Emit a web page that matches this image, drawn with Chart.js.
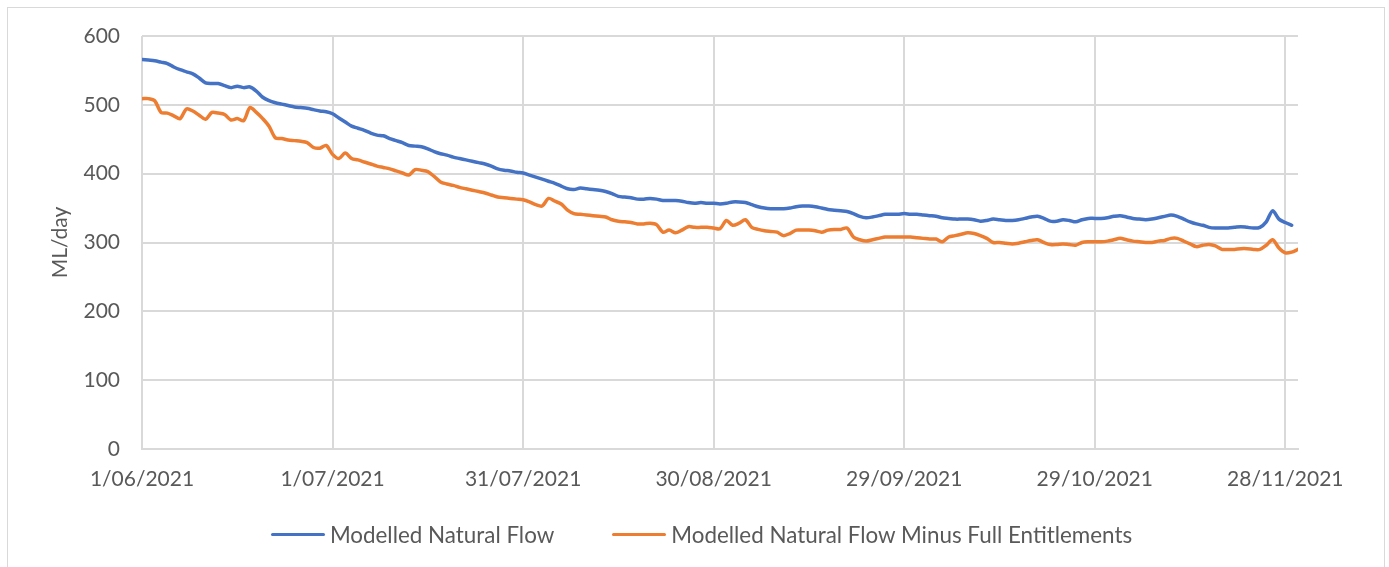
<!DOCTYPE html>
<html>
<head>
<meta charset="utf-8">
<script src="https://cdn.jsdelivr.net/npm/chart.js@4.4.1/dist/chart.umd.min.js"></script>
<style>
  html, body { margin:0; padding:0; background:#fff; }
  #wrap { position:relative; width:1389px; height:567px; overflow:hidden; }
  #frame { position:absolute; left:7px; top:7px; width:1376px; height:600px; border:1px solid #d9d9d9; }
  #chart { position:absolute; left:0; top:0; }
  #legend { position:absolute; left:0; top:521px; width:1389px; padding-left:14px; box-sizing:border-box;
            display:flex; justify-content:center; gap:58px; font-family:Lato, sans-serif; font-size:22.4px; color:#595959; }
  #legend .item { display:flex; align-items:center; white-space:nowrap; }
  #legend .sw { display:inline-block; width:54px; height:3.5px; border-radius:2px; margin-right:5px; }
</style>
</head>
<body>
<div id="wrap">
  <div id="frame"></div>
  <canvas id="chart" width="1389" height="567"></canvas>
  <div id="legend"></div>
</div>
<script>
// days counted from 1/06/2021
const START = new Date(2021, 5, 1);
const TICK_DAYS = [0, 30, 60, 90, 120, 150, 180];

// ML/day, one value per day
const naturalFlow = [
  566,565,564,562,560,555,551,548,545,539,
  532,531,531,528,525,527,525,526,520,511,
  506,503,501,499,497,496,495,493,491,490,
  487,481,475,469,466,463,459,456,455,451,
  448,445,441,440,439,436,432,429,427,424,
  422,420,418,416,414,411,407,405,404,402,
  401,398,395,392,389,386,382,378,377,379,
  378,377,376,374,371,367,366,365,363,363,
  364,363,361,361,361,360,358,357,358,357,
  357,356,357,359,359,358,355,352,350,349,
  349,349,350,352,353,353,352,350,348,347,
  346,345,342,338,336,337,339,341,341,341,
  342,341,341,340,339,338,336,335,334,334,
  334,333,331,332,334,333,332,332,333,335,
  337,338,335,331,331,333,332,330,333,335,
  335,335,336,338,339,337,335,334,333,334,
  336,338,340,338,334,330,327,325,322,321,
  321,321,322,323,322,321,322,330,346,334,
  329,325
];

const minusEntitlements = [
  509,509,506,489,488,484,480,494,491,485,
  479,489,488,486,478,480,477,496,489,480,
  469,452,451,449,448,447,445,438,437,441,
  428,422,430,422,420,417,414,411,409,407,
  404,401,398,406,405,403,396,388,385,383,
  380,378,376,374,372,369,366,365,364,363,
  362,359,355,353,364,360,356,347,342,341,
  340,339,338,337,333,331,330,329,327,327,
  328,326,315,318,314,318,323,322,322,322,
  321,320,332,325,328,333,322,319,317,316,
  315,310,313,318,318,318,317,315,318,319,
  319,321,308,304,302,304,306,308,308,308,
  308,308,307,306,305,305,301,308,310,312,
  314,313,310,306,300,300,299,298,299,301,
  303,304,300,297,297,298,297,296,300,301,
  301,301,302,304,306,304,302,301,300,300,
  302,303,306,306,302,298,294,296,297,295,
  290,290,290,291,291,290,290,296,304,292,
  285,286,290
];

const SERIES_LABELS = ['Modelled Natural Flow', 'Modelled Natural Flow Minus Full Entitlements'];
const SERIES_COLORS = ['#4472C4', '#ED7D31'];

const FONT = 'Lato, sans-serif';
const TEXT = '#595959';
const GRID = '#d9d9d9';

const fmtDay = d => {
  const dt = new Date(START.getFullYear(), START.getMonth(), START.getDate() + d);
  return `${dt.getDate()}/${String(dt.getMonth()+1).padStart(2,'0')}/${dt.getFullYear()}`;
};
const toPts = arr => arr.map((v, i) => ({x:i, y:v}));

const ds = (data, i) => ({
  label: SERIES_LABELS[i], data: toPts(data),
  borderColor: SERIES_COLORS[i], backgroundColor: SERIES_COLORS[i],
  borderWidth: 3.5, pointRadius: 0, tension: .3,
  borderCapStyle: 'round', borderJoinStyle: 'round'
});

const chart = new Chart(document.getElementById('chart'), {
  type: 'line',
  data: { datasets: [ds(naturalFlow, 0), ds(minusEntitlements, 1)] },
  options: {
    responsive: false,
    animation: false,
    layout: { padding: { left:48, right:91, top:36, bottom:0 } },
    scales: {
      x: {
        type: 'linear', min: 0, max: 182,
        afterBuildTicks: s => { s.ticks = TICK_DAYS.map(v => ({value:v})); },
        afterFit: s => { s.height = 118; },
        ticks: { color: TEXT, font: { family: FONT, size: 21 }, padding: 18, maxRotation: 0,
                 autoSkip: false, callback: v => fmtDay(v) },
        grid: { color: GRID, lineWidth: 2, drawTicks: false },
        border: { color: GRID, width: 2 }
      },
      y: {
        min: 0, max: 600,
        afterFit: s => { s.width = 94; },
        ticks: { stepSize: 100, color: TEXT, font: { family: FONT, size: 21 }, padding: 22 },
        grid: { color: GRID, lineWidth: 2, drawTicks: false },
        border: { display: false },
        title: { display: true, text: 'ML/day', color: TEXT, font: { family: FONT, size: 21 }, padding: 0 }
      }
    },
    plugins: { legend: { display: false }, tooltip: { enabled: false } }
  }
});

document.getElementById('legend').innerHTML = chart.data.datasets.map(d =>
  `<span class="item"><span class="sw" style="background:${d.borderColor}"></span>${d.label}</span>`
).join('');
</script>
</body>
</html>
